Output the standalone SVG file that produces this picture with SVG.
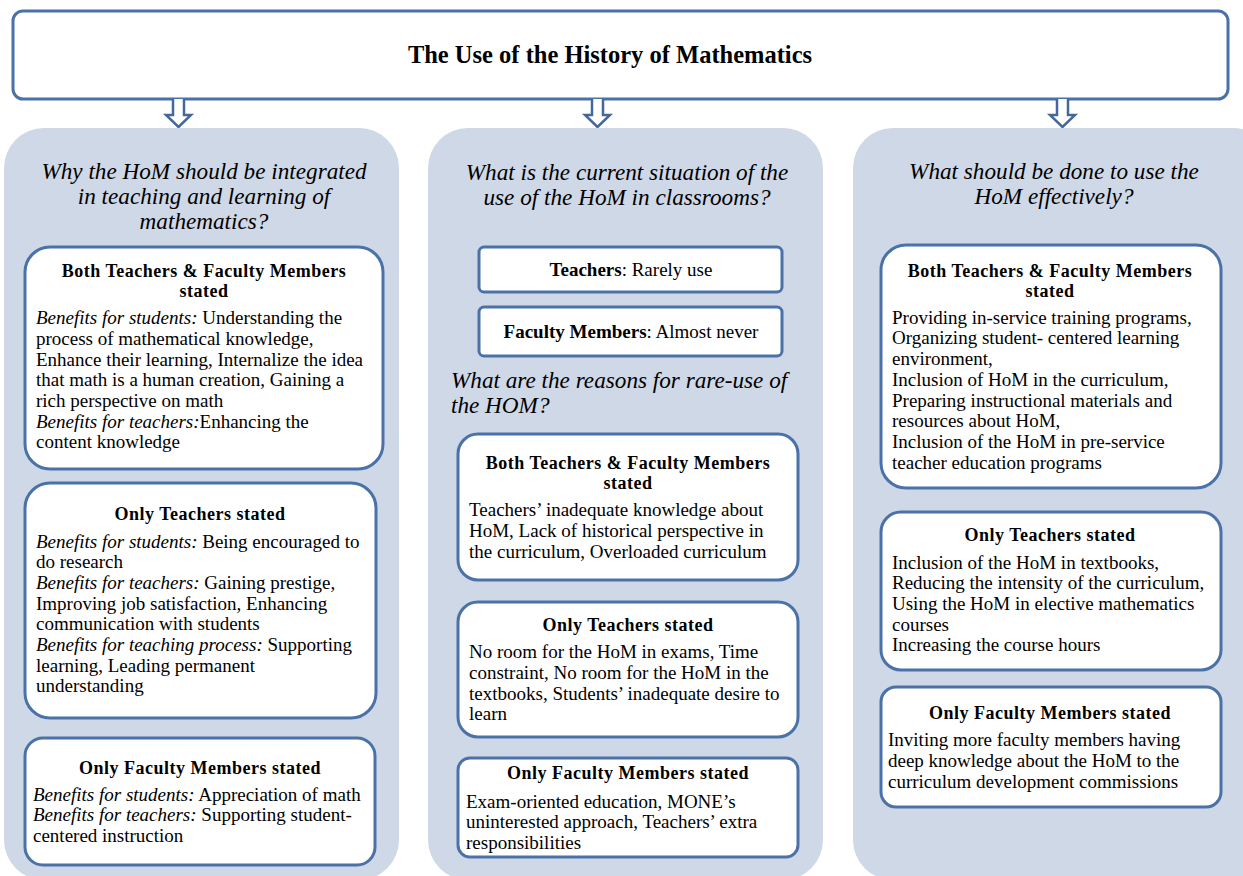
<svg xmlns="http://www.w3.org/2000/svg" width="1243" height="876" viewBox="0 0 1243 876">
<style>
.panel{fill:#cfd8e7;}
.box{fill:#ffffff;stroke:#4a72a8;stroke-width:3;}
.arrow{fill:#ffffff;stroke:#45689c;stroke-width:2.5;stroke-linejoin:miter;}
text{font-family:"Liberation Serif","Times New Roman",serif;fill:#000;}
.title{font-size:24.5px;font-weight:bold;text-anchor:middle;}
.q{font-size:23.2px;font-style:italic;}
.qc{text-anchor:middle;}
.h{font-size:18px;font-weight:bold;text-anchor:middle;letter-spacing:0.5px;}
.b{font-size:19px;}
.i{font-style:italic;}
</style>
<rect width="1243" height="876" fill="#ffffff"/>
<g id="title">
<rect class="box" x="13" y="11" width="1215" height="88" rx="10"/>
<text class="title" x="610" y="63">The Use of the History of Mathematics</text>
</g>
<g id="connectors">
<path class="arrow" d="M173 99 V115 H166 L178.5 127 L191 115 H184 V99"/>
<path class="arrow" d="M592 99 V115 H585 L597.5 127 L610 115 H603 V99"/>
<path class="arrow" d="M1057 99 V115 H1050 L1062.5 127 L1075 115 H1068 V99"/>
</g>
<g id="col1">
<rect class="panel" x="4" y="128" width="395" height="752" rx="40"/>
<text class="q qc" x="204" y="179">Why the HoM should be integrated</text>
<text class="q qc" x="204" y="204">in teaching and learning of</text>
<text class="q qc" x="204" y="229">mathematics?</text>
</g>
<g id="c1b1">
<rect class="box" x="25" y="247" width="358" height="222" rx="25"/>
<text class="h" x="204" y="277">Both Teachers &amp; Faculty Members</text>
<text class="h" x="204" y="297">stated</text>
<text class="b" x="36" y="324"><tspan class="i">Benefits for students:</tspan> Understanding the</text>
<text class="b" x="36" y="345">process of mathematical knowledge,</text>
<text class="b" x="36" y="366">Enhance their learning, Internalize the idea</text>
<text class="b" x="36" y="386">that math is a human creation, Gaining a</text>
<text class="b" x="36" y="407">rich perspective on math</text>
<text class="b" x="36" y="428"><tspan class="i">Benefits for teachers:</tspan>Enhancing the</text>
<text class="b" x="36" y="448">content knowledge</text>
</g>
<g id="c1b2">
<rect class="box" x="25" y="483" width="351" height="235" rx="25"/>
<text class="h" x="200" y="520">Only Teachers  stated</text>
<text class="b" x="36" y="548"><tspan class="i">Benefits for students:</tspan> Being encouraged to</text>
<text class="b" x="36" y="568">do research</text>
<text class="b" x="36" y="589"><tspan class="i">Benefits for teachers:</tspan> Gaining prestige,</text>
<text class="b" x="36" y="610">Improving job satisfaction,  Enhancing</text>
<text class="b" x="36" y="630">communication with students</text>
<text class="b" x="36" y="651"><tspan class="i">Benefits for teaching process:</tspan> Supporting</text>
<text class="b" x="36" y="672">learning, Leading permanent</text>
<text class="b" x="36" y="692">understanding</text>
</g>
<g id="c1b3">
<rect class="box" x="25" y="738" width="350" height="127" rx="18"/>
<text class="h" x="200" y="774">Only Faculty Members stated</text>
<text class="b" x="33" y="801"><tspan class="i">Benefits for students:</tspan> Appreciation of math</text>
<text class="b" x="33" y="821"><tspan class="i">Benefits for teachers:</tspan> Supporting student-</text>
<text class="b" x="33" y="842">centered instruction</text>
</g>
<g id="col2">
<rect class="panel" x="428" y="128" width="395" height="752" rx="40"/>
<text class="q qc" x="627" y="180">What is the current situation of the</text>
<text class="q qc" x="627" y="205">use of the HoM in classrooms?</text>
<text class="q" x="451" y="388">What are the reasons for rare-use of</text>
<text class="q" x="451" y="413">the HOM?</text>
</g>
<g id="c2t">
<rect class="box" x="479" y="247" width="303" height="45" rx="5"/>
<text class="b" x="631" y="276" text-anchor="middle"><tspan font-weight="bold">Teachers</tspan>: Rarely use</text>
</g>
<g id="c2f">
<rect class="box" x="479" y="307" width="303" height="49" rx="5"/>
<text class="b" x="631" y="338" text-anchor="middle"><tspan font-weight="bold">Faculty Members</tspan>:  Almost never</text>
</g>
<g id="c2b1">
<rect class="box" x="458" y="434" width="340" height="146" rx="20"/>
<text class="h" x="628" y="469">Both Teachers &amp; Faculty Members</text>
<text class="h" x="628" y="489">stated</text>
<text class="b" x="469" y="516">Teachers’  inadequate  knowledge  about</text>
<text class="b" x="469" y="537">HoM, Lack of historical perspective in</text>
<text class="b" x="469" y="558">the curriculum, Overloaded curriculum</text>
</g>
<g id="c2b2">
<rect class="box" x="458" y="602" width="340" height="135" rx="20"/>
<text class="h" x="628" y="631">Only Teachers stated</text>
<text class="b" x="469" y="658">No room for the HoM in exams, Time</text>
<text class="b" x="469" y="679">constraint,  No room for the HoM in the</text>
<text class="b" x="469" y="700">textbooks, Students’ inadequate desire to</text>
<text class="b" x="469" y="720">learn</text>
</g>
<g id="c2b3">
<rect class="box" x="458" y="758" width="340" height="99" rx="12"/>
<text class="h" x="628" y="779">Only Faculty Members stated</text>
<text class="b" x="466" y="808">Exam-oriented education, MONE’s</text>
<text class="b" x="466" y="828">uninterested approach, Teachers’ extra</text>
<text class="b" x="466" y="849">responsibilities</text>
</g>
<g id="col3">
<rect class="panel" x="853" y="128" width="420" height="752" rx="40"/>
<text class="q qc" x="1054" y="179">What should be done to use the</text>
<text class="q qc" x="1054" y="204">HoM effectively?</text>
</g>
<g id="c3b1">
<rect class="box" x="881" y="245" width="340" height="243" rx="25"/>
<text class="h" x="1050" y="277">Both Teachers &amp; Faculty Members</text>
<text class="h" x="1050" y="297">stated</text>
<text class="b" x="892" y="324">Providing in-service training programs,</text>
<text class="b" x="892" y="344">Organizing student- centered learning</text>
<text class="b" x="892" y="365">environment,</text>
<text class="b" x="892" y="386">Inclusion of HoM in the curriculum,</text>
<text class="b" x="892" y="407">Preparing instructional materials and</text>
<text class="b" x="892" y="427">resources about HoM,</text>
<text class="b" x="892" y="448">Inclusion of the HoM in pre-service</text>
<text class="b" x="892" y="469">teacher education programs</text>
</g>
<g id="c3b2">
<rect class="box" x="881" y="512" width="340" height="158" rx="20"/>
<text class="h" x="1050" y="541">Only Teachers stated</text>
<text class="b" x="892" y="569">Inclusion of the HoM in textbooks,</text>
<text class="b" x="892" y="589">Reducing the intensity of the curriculum,</text>
<text class="b" x="892" y="610">Using the HoM in elective mathematics</text>
<text class="b" x="892" y="631">courses</text>
<text class="b" x="892" y="651">Increasing  the course hours</text>
</g>
<g id="c3b3">
<rect class="box" x="881" y="687" width="340" height="120" rx="15"/>
<text class="h" x="1050" y="719">Only Faculty Members stated</text>
<text class="b" x="888" y="746">Inviting more faculty members having</text>
<text class="b" x="888" y="767">deep knowledge about the HoM to the</text>
<text class="b" x="888" y="788">curriculum development commissions</text>
</g>
</svg>
